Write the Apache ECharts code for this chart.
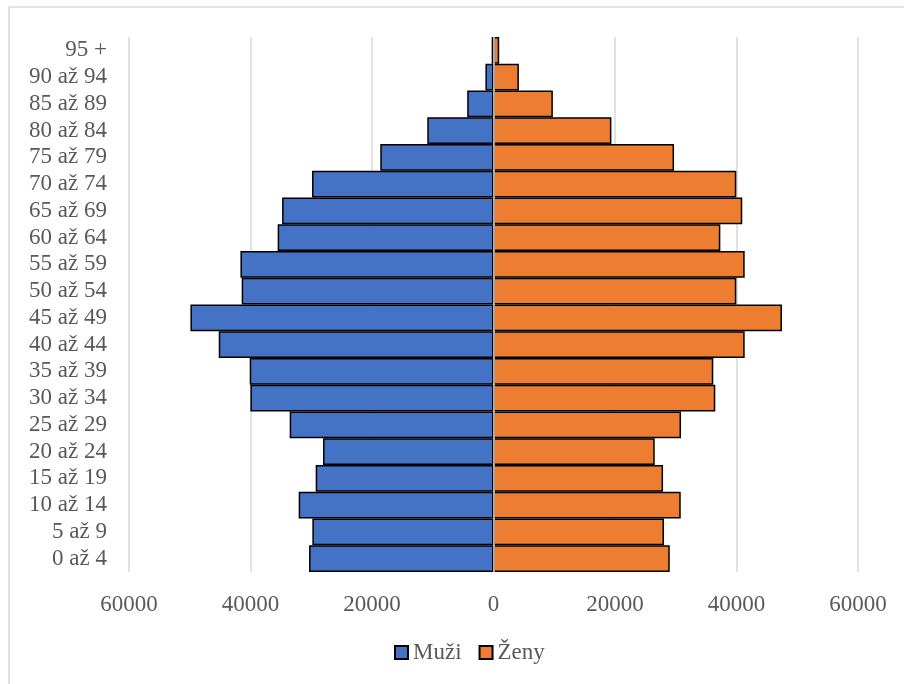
<!DOCTYPE html>
<html>
<head>
<meta charset="utf-8">
<script src="https://cdn.jsdelivr.net/npm/echarts@6/dist/echarts.min.js"></script>
<style>
html,body{margin:0;padding:0;background:#fff;}
#chart{width:904px;height:684px;}
</style>
</head>
<body>
<div id="chart"></div>
<script>
const categories = ['0 až 4','5 až 9','10 až 14','15 až 19','20 až 24','25 až 29','30 až 34','35 až 39','40 až 44','45 až 49','50 až 54','55 až 59','60 až 64','65 až 69','70 až 74','75 až 79','80 až 84','85 až 89','90 až 94','95 +'];
const muzi = [30360, 29820, 32070, 29270, 28060, 33550, 40020, 40130, 45230, 49890, 41450, 41660, 35530, 34800, 29870, 18640, 10900, 4330, 1330, 300];
const zeny = [29010, 28070, 30820, 27910, 26540, 30870, 36510, 36180, 41350, 47480, 39970, 41350, 37340, 40950, 39970, 29720, 19410, 9770, 4180, 940];
const xTicks = { min: -60000, max: 60000, interval: 20000 };

const chart = echarts.init(document.getElementById('chart'));
const font = 'Liberation Serif';
const txt = '#595959';
chart.setOption({
  animation: false,
  backgroundColor: '#fff',
  graphic: [{
    type: 'rect',
    shape: { x: 9, y: 7, width: 1000, height: 1000 },
    style: { fill: 'none', stroke: '#d9d9d9', lineWidth: 1.5 },
    silent: true, z: 0
  }],
  grid: { left: 129, right: 46, top: 37, bottom: 112 },
  xAxis: {
    type: 'value',
    min: xTicks.min, max: xTicks.max, interval: xTicks.interval,
    axisLine: { show: false },
    axisTick: { show: false },
    splitLine: { show: true, lineStyle: { color: '#d9d9d9', width: 1.5 } },
    axisLabel: {
      color: txt, fontFamily: font, fontSize: 23, margin: 21,
      formatter: v => String(Math.abs(v))
    }
  },
  yAxis: {
    type: 'category',
    data: categories,
    axisLine: { show: false, onZero: false },
    axisTick: { show: false },
    splitLine: { show: false },
    axisLabel: { color: txt, fontFamily: font, fontSize: 23, margin: 22, interval: 0 }
  },
  legend: {
    bottom: 15,
    left: 389,
    itemWidth: 13,
    itemHeight: 13,
    itemGap: 17,
    icon: 'rect',
    textStyle: { color: txt, fontFamily: font, fontSize: 23 },
    data: ['Muži', 'Ženy']
  },
  series: [
    {
      name: 'Muži', type: 'bar',
      data: muzi.map(v => -v),
      barGap: '-100%', barCategoryGap: '0%',
      itemStyle: { color: '#4472C4', borderColor: '#000', borderWidth: 1.5 }
    },
    {
      name: 'Ženy', type: 'bar',
      data: zeny,
      barGap: '-100%', barCategoryGap: '0%',
      itemStyle: { color: '#ED7D31', borderColor: '#000', borderWidth: 1.5 },
      markLine: {
        silent: true, symbol: 'none', label: { show: false },
        lineStyle: { color: '#d9d9d9', width: 1.5, type: 'solid' },
        data: [{ xAxis: 0 }]
      }
    }
  ]
});
</script>
</body>
</html>
